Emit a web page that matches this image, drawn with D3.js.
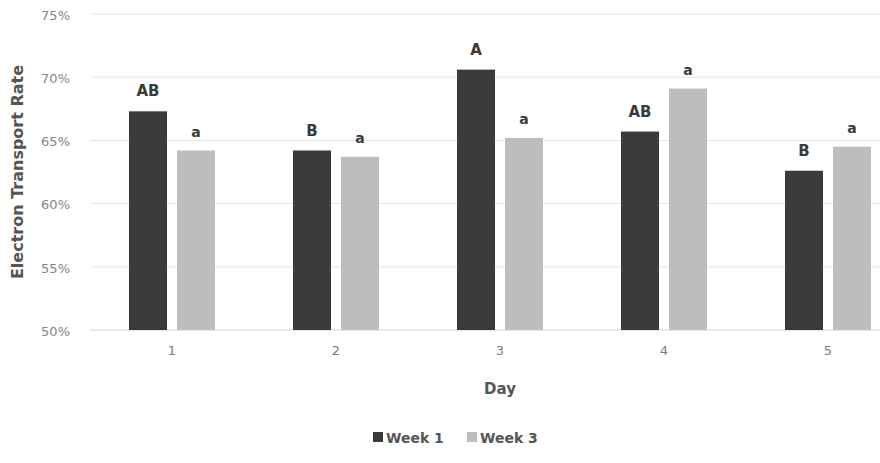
<!DOCTYPE html>
<html><head><meta charset="utf-8">
<script src="https://cdn.jsdelivr.net/npm/d3@7"></script>
<style>body{margin:0;background:#fff;}svg{display:block;font-family:"DejaVu Sans",sans-serif;}</style>
</head><body><svg id="c" width="880" height="463"></svg>
<script>
const days = ["1","2","3","4","5"];
const seriesNames = ["Week 1","Week 3"];
const week1 = [67.3, 64.2, 70.6, 65.7, 62.6];
const week3 = [64.2, 63.7, 65.2, 69.1, 64.5];
const week1Letters = ["AB","B","A","AB","B"];
const week3Letters = ["a","a","a","a","a"];
const yTicks = [50,55,60,65,70,75];
const colors = ["#3b3b3b","#bdbdbd"];

(function(){
const FONT = "'DejaVu Sans',sans-serif";
const svg = d3.select("#c");
const mLeft = 90, mRight = 910, mTop = 14, mBottom = 330;
const x = d3.scaleBand().domain(days).range([mLeft, mRight]).paddingInner(0).paddingOuter(0);
const y = d3.scaleLinear().domain([50,75]).range([mBottom, mTop]);
const barW = 38, gap = 10;

svg.append("g").selectAll("line").data(yTicks).join("line")
  .attr("x1", mLeft).attr("x2", mRight)
  .attr("y1", d=>y(d)).attr("y2", d=>y(d))
  .attr("stroke", d=> d===50 ? "#d4d4d4" : "#e4e4e4").attr("stroke-width",1);

const yAxis = d3.axisLeft(y).tickValues(yTicks).tickFormat(d=>d+"%").tickSize(0).tickPadding(6);
const gy = svg.append("g").attr("transform",`translate(${mLeft-14},0)`).call(yAxis);
gy.select(".domain").remove();
gy.selectAll("text").attr("fill","#858585").attr("dy","0.4em").style("font-size","13px").style("font-family",FONT);

const xAxis = d3.axisBottom(x).tickSize(0).tickPadding(0);
const gx = svg.append("g").attr("transform",`translate(0,${mBottom+16})`).call(xAxis);
gx.select(".domain").remove();
gx.selectAll("text").attr("fill","#7a7a7a").style("font-size","13px").style("font-family",FONT);

const series = [week1, week3];
const letters = [week1Letters, week3Letters];
series.forEach((vals, si) => {
  const cx = d => x(d) + x.bandwidth()/2;
  const bx = d => si===0 ? cx(d) - gap/2 - barW : cx(d) + gap/2;
  svg.append("g").selectAll("rect").data(days).join("rect")
    .attr("x", d=>bx(d)).attr("width", barW)
    .attr("y", (d,i)=>y(vals[i])).attr("height",(d,i)=>y(50)-y(vals[i]))
    .attr("fill", colors[si]);
  svg.append("g").selectAll("text").data(days).join("text")
    .attr("x", d=>bx(d)+barW/2)
    .attr("y", (d,i)=>y(vals[i]) - (si===0 ? 15 : 14))
    .attr("text-anchor","middle")
    .attr("fill","#3a3a3a").attr("font-weight","bold")
    .style("font-size", si===0 ? "15px" : "14px")
    .text((d,i)=>letters[si][i]);
});

svg.append("text").attr("transform","translate(23,172) rotate(-90)")
  .attr("text-anchor","middle").attr("fill","#555").attr("font-weight","bold")
  .style("font-size","16px").text("Electron Transport Rate");
svg.append("text").attr("x",500).attr("y",394).attr("text-anchor","middle")
  .attr("fill","#555").attr("font-weight","bold").style("font-size","15px").text("Day");

const legX = [373, 467];
seriesNames.forEach((n,i)=>{
  svg.append("rect").attr("x",legX[i]).attr("y",432).attr("width",10).attr("height",10).attr("fill",colors[i]);
  svg.append("text").attr("x",legX[i]+13).attr("y",443).attr("fill","#555").attr("font-weight","bold")
    .style("font-size","14px").text(n);
});
})();
</script></body></html>
